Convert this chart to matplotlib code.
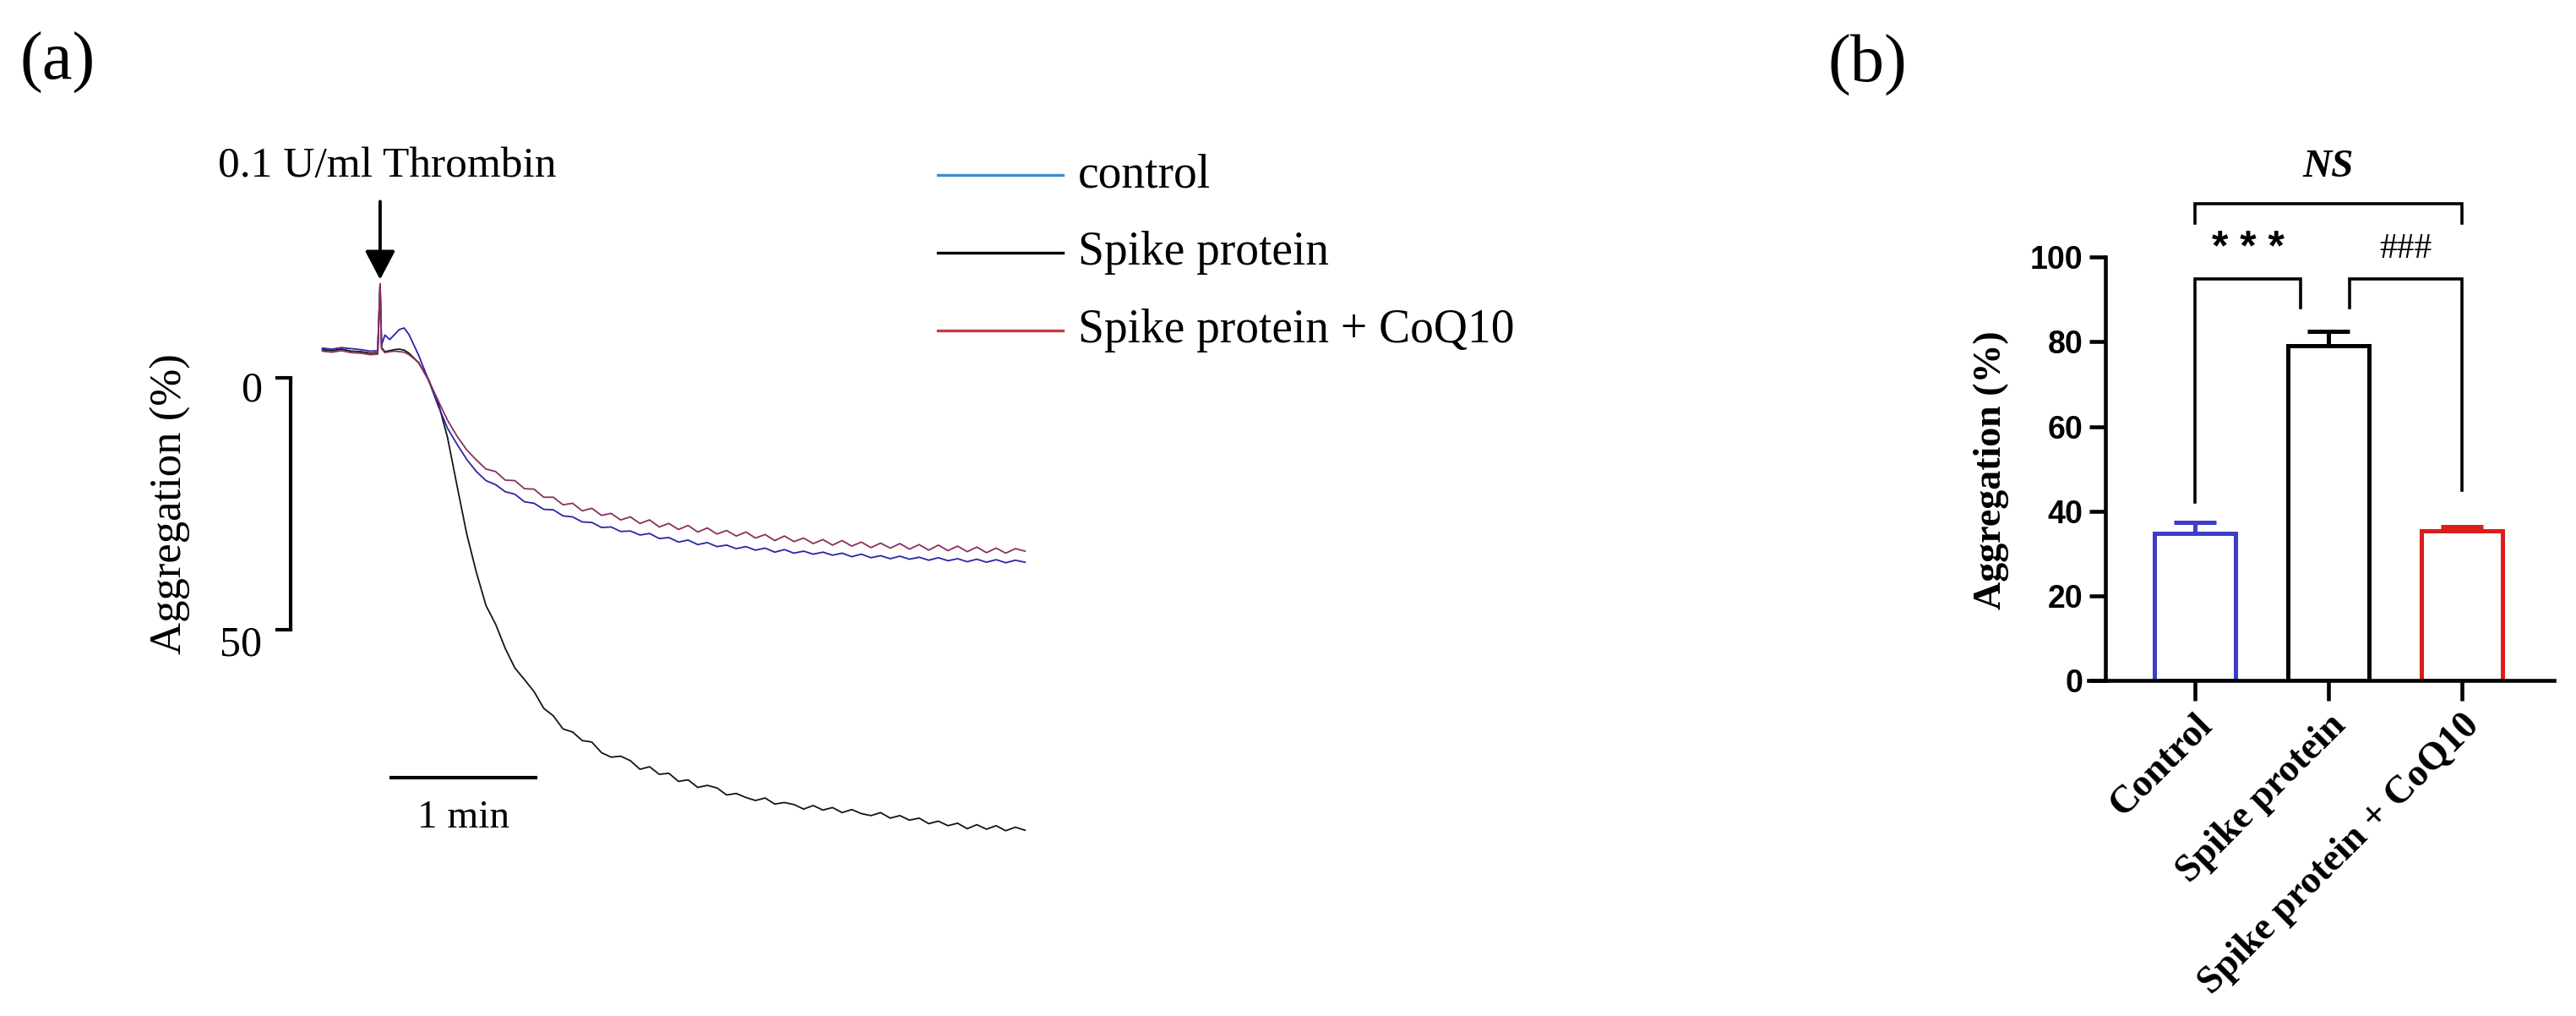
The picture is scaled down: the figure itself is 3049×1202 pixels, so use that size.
import numpy as np
import matplotlib.pyplot as plt
from matplotlib.lines import Line2D

plt.rcParams['font.family'] = 'Liberation Serif'

# ---- (a) aggregation traces: time after thrombin (s) vs aggregation (%)
t_pre = [-24, -20, -16, -12, -8, -4, -1, 0, 0.6, 2, 4, 6, 8, 10, 12]
t_main = list(range(16, 272, 4))

black_pre = [-5.6, -5.4, -5.7, -5.3, -5.2, -4.9, -5.0, -18.6, -6.0, -5.2, -5.4, -5.6, -5.7, -5.5, -4.9]
blue_pre = [-5.9, -5.7, -6.0, -5.8, -5.6, -5.3, -5.4, -18.6, -6.5, -8.5, -7.6, -8.6, -9.6, -9.9, -8.6]
red_pre = [-5.3, -5.1, -5.4, -5.0, -4.9, -4.6, -4.7, -18.6, -5.8, -5.0, -5.2, -5.3, -5.2, -5.1, -4.6]

spike_main = [-3.0, 0.2, 4.7, 11.8, 21.5, 31.0, 38.6, 45.2,
              48.9, 53.7, 57.6, 59.9, 62.3, 65.6, 67.1, 69.7,
              70.3, 72.0, 72.3, 74.4, 75.3, 75.1, 76.0, 77.7,
              77.2, 78.7, 78.5, 80.1, 79.8, 81.3, 80.9, 81.4,
              82.8, 82.5, 83.3, 83.9, 83.4, 84.6, 84.3, 84.7,
              85.6, 84.9, 85.8, 85.3, 86.3, 85.7, 86.5, 86.9,
              86.3, 87.4, 86.9, 87.8, 87.4, 88.5, 88.0, 88.9,
              88.4, 89.5, 88.7, 89.6, 88.9, 89.9, 89.2, 89.8]
control_main = [-4.5, 0.3, 5.4, 10.0, 13.2, 16.2, 18.6, 20.4,
                21.2, 22.6, 23.1, 24.6, 24.9, 26.1, 26.2, 27.4,
                27.6, 28.6, 28.7, 29.7, 29.6, 30.5, 30.4, 31.2,
                30.9, 31.9, 31.7, 32.6, 32.2, 33.1, 32.7, 33.5,
                33.2, 33.9, 33.5, 34.2, 33.8, 34.6, 34.1, 34.8,
                34.4, 35.0, 34.6, 35.2, 34.8, 35.5, 35.0, 35.7,
                35.3, 35.9, 35.4, 36.0, 35.6, 36.2, 35.7, 36.3,
                35.9, 36.5, 36.0, 36.6, 36.1, 36.7, 36.2, 36.6]
coq10_main = [-3.1, 0.4, 4.4, 8.4, 11.6, 14.3, 16.3, 18.1,
              18.6, 20.3, 20.4, 22.0, 22.1, 23.7, 23.7, 25.2,
              24.9, 26.4, 25.9, 27.3, 26.9, 28.2, 27.6, 28.9,
              28.2, 29.6, 28.9, 30.1, 29.3, 30.6, 29.8, 31.0,
              30.3, 31.4, 30.6, 31.8, 31.1, 32.3, 31.4, 32.5,
              31.8, 32.9, 32.1, 33.2, 32.3, 33.4, 32.6, 33.7,
              32.8, 33.8, 32.9, 34.0, 33.1, 34.2, 33.2, 34.3,
              33.4, 34.5, 33.6, 34.7, 33.8, 34.8, 33.9, 34.4]

trace_labels = ['control', 'Spike protein', 'Spike protein + CoQ10']

# ---- (b) bar chart
groups = ['Control', 'Spike protein', 'Spike protein + CoQ10']
bar_means = [34.7, 79.1, 35.3]
bar_sem = [2.7, 3.3, 1.1]
y_ticks = [0, 20, 40, 60, 80, 100]

W, H = 3049, 1202
fig = plt.figure(figsize=(W / 100, H / 100), dpi=100)

# ---------------- panel (a)
ax1 = fig.add_axes([0.05415, 0.0827, 0.37364, 0.7933])
ax1.set_xlim(-100, 300)
ax1.set_ylim(110, -50)
ax1.axis('off')

t_all = t_pre + t_main
ax1.plot(t_all, black_pre + spike_main, color='#151515', lw=1.3, zorder=3)
ax1.plot(t_all, blue_pre + control_main, color='#2a25a8', lw=1.3, zorder=4)
ax1.plot(t_all, red_pre + coq10_main, color='#8a2f5e', lw=1.3, zorder=5)

# thrombin arrow + label
ax1.annotate('', xy=(0, -19.5), xytext=(0, -35),
             arrowprops=dict(arrowstyle='-|>,head_length=1.05,head_width=0.55',
                             lw=2.8, color='black', mutation_scale=20,
                             shrinkA=0, shrinkB=0))
ax1.text(3, -40, '0.1 U/ml Thrombin', fontsize=37, ha='center', va='baseline')

# vertical scale bar
ax1.plot([-42.8, -37.2, -37.2, -42.8], [0, 0, 50, 50], color='black', lw=3,
         solid_joinstyle='miter', clip_on=False)
ax1.text(-49, 2.5, '0', fontsize=36, ha='right', va='center')
ax1.text(-49, 53, '50', fontsize=36, ha='right', va='center')
ax1.text(-87, 25, 'Aggregation (%)', fontsize=38, rotation=90, ha='center', va='center')

# time scale bar
ax1.plot([4.5, 64.5], [79.3, 79.3], color='black', lw=3)
ax1.text(34.5, 87.4, '1 min', fontsize=34, ha='center', va='center')

# legend (drawn by hand)
leg_colors = ['#3a8fd0', '#000000', '#c43c44']
leg_rows = [207, 299, 391]
for lab, c, yp in zip(trace_labels, leg_colors, leg_rows):
    fy = 1 - yp / H
    fig.add_artist(Line2D([1110 / W, 1258 / W], [fy, fy], color=c, lw=2.4))
    fig.text(1276 / W, fy, lab, fontsize=40, ha='left', va='center')

fig.text(68 / W, 1 - 74 / H, '(a)', fontsize=58, ha='center', va='center')
fig.text(2210 / W, 1 - 77 / H, '(b)', fontsize=58, ha='center', va='center')

# ---------------- panel (b)
ax2 = fig.add_axes([0.8172, 0.33, 0.17415, 0.4171])
x = np.arange(len(groups))
bar_colors = ['#3d3dc8', '#000000', '#dd1c1c']
ax2.bar(x, bar_means, width=0.61, color='white', edgecolor=bar_colors,
        linewidth=3.6, zorder=2)
for xi, m, e, c in zip(x, bar_means, bar_sem, bar_colors):
    ax2.errorbar([xi], [m], yerr=[[0], [e]], fmt='none', ecolor=c,
                 elinewidth=3.6, capsize=18, capthick=3.6, zorder=3)

ax2.set_xlim(-0.673, 2.69)
ax2.set_ylim(0, 100)
ax2.spines['top'].set_visible(False)
ax2.spines['right'].set_visible(False)
for s in ['left', 'bottom']:
    ax2.spines[s].set_linewidth(3.3)
ax2.spines['bottom'].set_bounds(-0.80, 2.69)
ax2.spines['bottom'].set_clip_on(False)
ax2.set_yticks(y_ticks)
ax2.set_yticklabels([str(v) for v in y_ticks], family='Liberation Sans',
                    fontweight='bold', fontsize=27)
ax2.tick_params(axis='y', length=14, width=3.3, pad=5)
ax2.tick_params(axis='x', length=17, width=3.3, pad=6)
ax2.set_xticks(x)
ax2.set_xticklabels(groups, rotation=45, ha='right', rotation_mode='anchor',
                    fontsize=33, fontweight='bold')
fig.text(2357 / W, 1 - 556 / H, 'Aggregation (%)', fontsize=33, fontweight='bold',
         rotation=90, ha='center', va='center')

# significance brackets
bk = dict(color='black', lw=2.6, clip_on=False, solid_joinstyle='miter')
ax2.plot([0, 0, 0.79, 0.79], [42.2, 94.9, 94.9, 88.0], **bk)
ax2.plot([1.16, 1.16, 2, 2], [88.0, 94.9, 94.9, 45.0], **bk)
ax2.plot([0, 0, 2, 2], [108, 112.6, 112.6, 108], **bk)
ax2.text(0.40, 101.7, '* * *', family='Liberation Sans', fontweight='bold',
         fontsize=36, ha='center', va='center')
ax2.text(1.58, 101.8, '###', fontsize=30, ha='center', va='center')
ax2.text(1.0, 121.1, 'NS', fontsize=34, fontweight='bold', fontstyle='italic',
         ha='center', va='center')

fig.savefig('out.png', dpi=100, facecolor='white')
